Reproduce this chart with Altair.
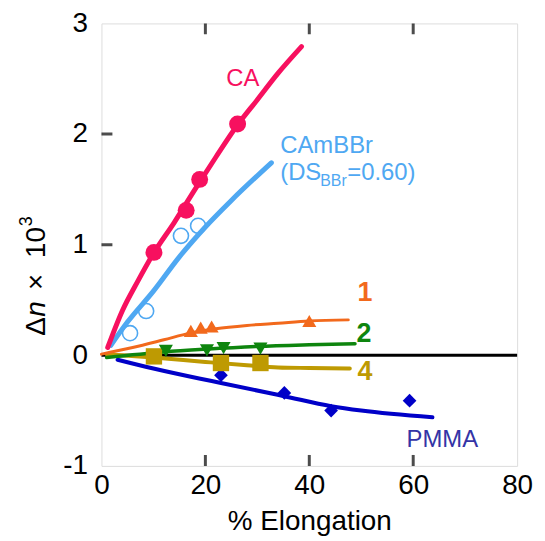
import altair as alt
import pandas as pd

# ---- data ----
# CA (filled circles + fitted curve)
ca_pts_x = [10.1, 16.3, 18.9, 26.2]
ca_pts_y = [0.93, 1.31, 1.59, 2.09]
ca_line_x = [1.2, 4, 7, 10, 14, 18, 22, 26, 30, 34, 38.5]
ca_line_y = [0.07, 0.40, 0.67, 0.92, 1.20, 1.50, 1.79, 2.07, 2.31, 2.55, 2.79]

# CAmBBr (open circles + curve)
cab_pts_x = [5.5, 8.6, 15.3, 18.6]
cab_pts_y = [0.20, 0.40, 1.08, 1.17]
cab_line_x = [1.8, 5, 10, 15, 20, 25, 32.7]
cab_line_y = [0.09, 0.30, 0.58, 0.89, 1.16, 1.40, 1.74]

# series 1 (triangle up)
s1_pts_x = [17.2, 19.1, 21.2, 40.0]
s1_pts_y = [0.22, 0.25, 0.26, 0.31]
s1_line_x = [0, 6, 12, 17, 22, 28, 34, 40, 47.5]
s1_line_y = [0.01, 0.07, 0.14, 0.20, 0.24, 0.27, 0.29, 0.31, 0.32]

# series 2 (triangle down)
s2_pts_x = [12.4, 20.3, 23.5, 30.6]
s2_pts_y = [0.04, 0.045, 0.065, 0.06]
s2_line_x = [1, 12, 20, 30, 40, 48.8]
s2_line_y = [-0.02, 0.03, 0.055, 0.08, 0.095, 0.105]

# series 4 (squares)
s4_pts_x = [10.1, 23.0, 30.6]
s4_pts_y = [-0.01, -0.07, -0.07]
s4_line_x = [1, 10, 20, 28, 34, 40, 47.8]
s4_line_y = [0.01, -0.02, -0.06, -0.09, -0.11, -0.115, -0.12]

# PMMA (diamonds)
pm_pts_x = [23.0, 35.2, 44.2, 59.3]
pm_pts_y = [-0.18, -0.34, -0.50, -0.41]
pm_line_x = [3.1, 10, 18.8, 23, 35.2, 44.2, 50, 63.7]
pm_line_y = [-0.04, -0.12, -0.21, -0.25, -0.37, -0.46, -0.50, -0.56]

x_ticks = [0, 20, 40, 60, 80]
y_ticks = [-1, 0, 1, 2, 3]
inner_x_ticks = [20, 40, 60]
inner_y_ticks = [1, 2]

C_CA = "#F7105F"
C_CAB = "#4FA8F2"
C_1 = "#F2691C"
C_2 = "#0E850E"
C_4 = "#BE9A02"
C_PM = "#0000C8"
C_PM_TXT = "#3434A6"

FONT = "Liberation Sans"
W, H = 418, 445

xs = alt.Scale(domain=[0, 80], nice=False, zero=False)
ys = alt.Scale(domain=[-1, 3], nice=False, zero=False)


def df(xv, yv):
    return pd.DataFrame({"x": xv, "y": yv})


X = alt.X("x:Q", scale=xs,
          axis=alt.Axis(values=x_ticks, title="% Elongation", labelFontSize=28,
                        titleFontSize=28, titleFontWeight="normal", labelFont=FONT,
                        titleFont=FONT, tickSize=0, domain=False, grid=False,
                        labelPadding=6, titlePadding=8, labelFlush=False,
                        labelExpr="toString(datum.value)",
                        labelColor="black", titleColor="black"))
Y = alt.Y("y:Q", scale=ys,
          axis=alt.Axis(values=y_ticks, title=None, labelFontSize=28, labelFont=FONT,
                        tickSize=0, domain=False, grid=False, labelPadding=14,
                        labelFlush=False, labelExpr="toString(datum.value)",
                        labelColor="black"))


def line(xv, yv, color, width):
    return alt.Chart(df(xv, yv)).mark_line(
        color=color, strokeWidth=width, interpolate="monotone", strokeCap="round"
    ).encode(x=X, y=Y)


def pts(xv, yv, shape, color, size, filled=True, sw=0):
    if filled:
        m = alt.Chart(df(xv, yv)).mark_point(shape=shape, filled=True, color=color,
                                              size=size, opacity=1)
    else:
        m = alt.Chart(df(xv, yv)).mark_point(shape=shape, filled=False, color=color,
                                              size=size, strokeWidth=sw, opacity=1,
                                              fill="white", fillOpacity=0)
    return m.encode(x=X, y=Y)


zero = alt.Chart(pd.DataFrame({"y": [0]})).mark_rule(color="black", strokeWidth=3).encode(
    y=alt.Y("y:Q", scale=ys), x=alt.value(0), x2=alt.value(W))

ticks_bottom = alt.Chart(pd.DataFrame({"x": inner_x_ticks})).mark_tick(
    color="black", thickness=3, size=22, clip=True).encode(
    x=alt.X("x:Q", scale=xs), y=alt.value(H))
ticks_top = alt.Chart(pd.DataFrame({"x": inner_x_ticks})).mark_tick(
    color="black", thickness=3, size=22, clip=True).encode(
    x=alt.X("x:Q", scale=xs), y=alt.value(0))
ticks_left = alt.Chart(pd.DataFrame({"y": inner_y_ticks})).mark_tick(
    color="black", thickness=3, size=22, clip=True).encode(
    y=alt.Y("y:Q", scale=ys), x=alt.value(0))

# ---- in-plot labels (data coordinates) ----
lab_c = pd.DataFrame({
    "x": [27.2, 65.6],
    "y": [2.50, -0.77],
    "t": ["CA", "PMMA"],
    "c": [C_CA, C_PM_TXT],
})
lab_l = pd.DataFrame({
    "x": [34.4, 34.4, 47.3],
    "y": [1.89, 1.65, 1.65],
    "t": ["CAmBBr", "(DS", "=0.60)"],
})
labels_norm_c = alt.Chart(lab_c).mark_text(
    fontSize=24, font=FONT, baseline="middle", align="center").encode(
    x=alt.X("x:Q", scale=xs), y=alt.Y("y:Q", scale=ys), text="t:N",
    color=alt.Color("c:N", scale=None))
labels_norm_l = alt.Chart(lab_l).mark_text(
    fontSize=24, font=FONT, baseline="middle", align="left", color=C_CAB).encode(
    x=alt.X("x:Q", scale=xs), y=alt.Y("y:Q", scale=ys), text="t:N")
sub = alt.Chart(pd.DataFrame({"x": [42.1], "y": [1.575], "t": ["BBr"]})).mark_text(
    fontSize=16, font=FONT, baseline="middle", align="left", color=C_CAB).encode(
    x=alt.X("x:Q", scale=xs), y=alt.Y("y:Q", scale=ys), text="t:N")

lab_bold = pd.DataFrame({
    "x": [50.7, 50.5, 50.7],
    "y": [0.56, 0.19, -0.15],
    "t": ["1", "2", "4"],
    "c": [C_1, C_2, C_4],
})
labels_bold = alt.Chart(lab_bold).mark_text(
    fontSize=27, font=FONT, fontWeight="bold", baseline="middle", align="center").encode(
    x=alt.X("x:Q", scale=xs), y=alt.Y("y:Q", scale=ys), text="t:N",
    color=alt.Color("c:N", scale=None))


# ---- y-axis title pieces (rotated) ----
def ytitle(txt, px, py, size=28, style="normal"):
    return alt.Chart(pd.DataFrame({"t": [txt]})).mark_text(
        angle=270, align="left", baseline="middle", fontSize=size, font=FONT,
        fontStyle=style, color="black").encode(
        text="t:N", x=alt.value(px), y=alt.value(py))


yt = (ytitle("Δ", -65, 314) + ytitle("n", -65, 295, style="italic")
      + ytitle("×", -65, 268) + ytitle("10", -65, 236) + ytitle("3", -75, 204, size=18))

chart = alt.layer(
    zero,
    line(pm_line_x, pm_line_y, C_PM, 4),
    line(s4_line_x, s4_line_y, C_4, 4),
    line(s2_line_x, s2_line_y, C_2, 3.5),
    line(s1_line_x, s1_line_y, C_1, 3),
    line(cab_line_x, cab_line_y, C_CAB, 5),
    line(ca_line_x, ca_line_y, C_CA, 5),
    pts(pm_pts_x, pm_pts_y, "diamond", C_PM, 190),
    pts(s4_pts_x, s4_pts_y, "square", C_4, 270),
    pts(s2_pts_x, s2_pts_y, "triangle-down", C_2, 200),
    pts(s1_pts_x, s1_pts_y, "triangle-up", C_1, 200),
    pts(cab_pts_x, cab_pts_y, "circle", C_CAB, 230, filled=False, sw=1.6),
    pts(ca_pts_x, ca_pts_y, "circle", C_CA, 290),
    ticks_bottom, ticks_top, ticks_left,
    labels_norm_c, labels_norm_l, sub, labels_bold,
    yt,
).properties(
    width=W, height=H,
    autosize=alt.AutoSizeParams(type="none"),
    padding={"left": 94, "top": 14, "right": 20, "bottom": 70},
).configure_view(
    stroke="black", strokeWidth=4
).configure(background="white")

chart.save("out.html", embed_options={"renderer": "svg", "actions": False})
